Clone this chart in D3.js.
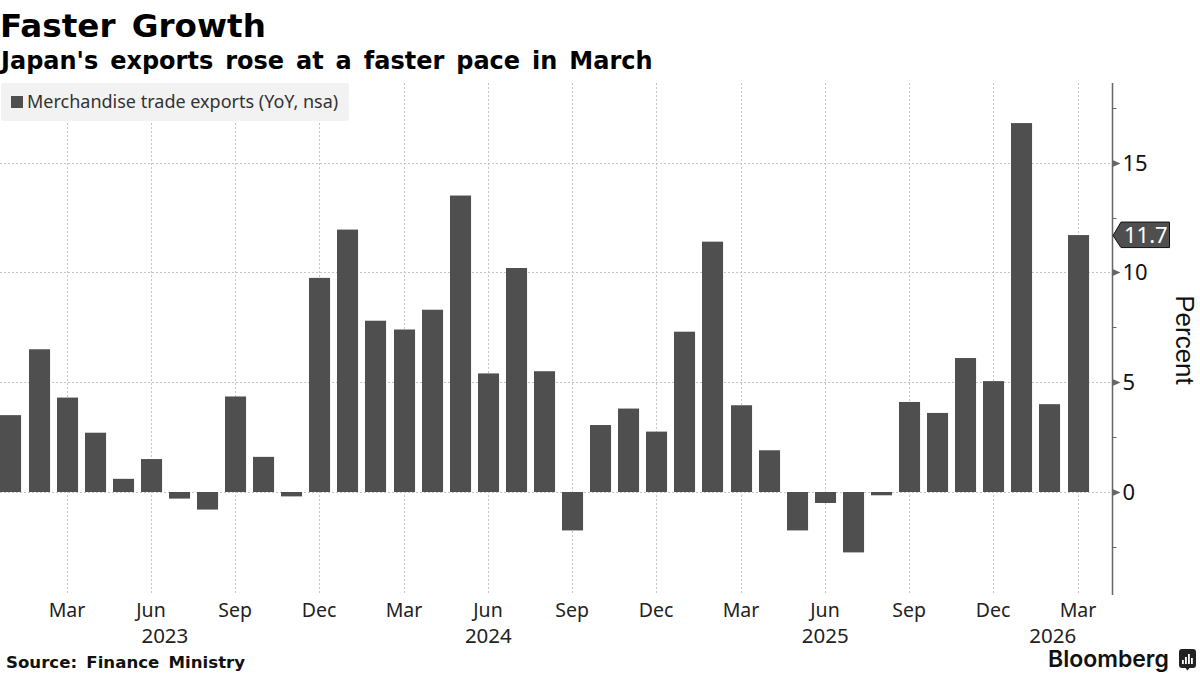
<!DOCTYPE html>
<html><head><meta charset="utf-8">
<script src="https://d3js.org/d3.v7.min.js"></script>
<style>
html,body{margin:0;padding:0;background:#fff;}
svg{display:block;font-family:"Noto Sans",sans-serif;}
.b{font-family:"DejaVu Sans",sans-serif;font-weight:700;}
</style></head><body>
<svg id="c" width="1200" height="675"></svg>
<script>
const months = ["Jan 2023","Feb 2023","Mar 2023","Apr 2023","May 2023","Jun 2023","Jul 2023","Aug 2023","Sep 2023","Oct 2023","Nov 2023","Dec 2023",
"Jan 2024","Feb 2024","Mar 2024","Apr 2024","May 2024","Jun 2024","Jul 2024","Aug 2024","Sep 2024","Oct 2024","Nov 2024","Dec 2024",
"Jan 2025","Feb 2025","Mar 2025","Apr 2025","May 2025","Jun 2025","Jul 2025","Aug 2025","Sep 2025","Oct 2025","Nov 2025","Dec 2025",
"Jan 2026","Feb 2026","Mar 2026"];
const values = [3.5,6.5,4.3,2.7,0.6,1.5,-0.3,-0.8,4.35,1.6,-0.2,9.75,
11.95,7.8,7.4,8.3,13.5,5.4,10.2,5.5,-1.75,3.05,3.8,2.75,
7.3,11.4,3.95,1.9,-1.75,-0.5,-2.75,-0.15,4.1,3.6,6.1,5.05,
16.8,4.0,11.7];
const monthTicks = ["Mar 2023","Jun 2023","Sep 2023","Dec 2023","Mar 2024","Jun 2024","Sep 2024","Dec 2024","Mar 2025","Jun 2025","Sep 2025","Dec 2025","Mar 2026"];
const yearLabels = ["2023","2024","2025","2026"];
const yearLabelAnchors = [5.48,17,29,37.1];
const yMajor = [0,5,10,15];
const yMinor = [-2.5,2.5,7.5,12.5,17.5];
const title = "Faster Growth";
const subtitle = "Japan's exports rose at a faster pace in March";
const legendLabel = "Merchandise trade exports (YoY, nsa)";
const source = "Source: Finance Ministry";
const lastLabel = "11.7";

const svg = d3.select("#c");
const x = d3.scaleBand().domain(months).range([-3.05,1092.07]).paddingInner(0.25).paddingOuter(0.125);
const y = d3.scaleLinear().domain([0,15]).range([492,162.6]);
const cx = m => Math.round(x(m))+x.bandwidth()/2;
const idx = d3.scaleLinear().domain([0,38]).range([x(months[0])+x.bandwidth()/2,x(months[38])+x.bandwidth()/2]);
const plotTop=83, plotBottom=595, axisX=1112.5;
const gridColor="#c6c6c6", barColor="#4f4f4f", axisColor="#666";

// gridlines
svg.append("g").selectAll("line").data(yMajor).join("line")
 .attr("x1",0).attr("x2",axisX).attr("y1",d=>Math.round(y(d))+.5).attr("y2",d=>Math.round(y(d))+.5)
 .attr("stroke",gridColor).attr("stroke-dasharray","2 2");
svg.append("g").selectAll("line").data(monthTicks).join("line")
 .attr("x1",d=>Math.floor(cx(d))+.5).attr("x2",d=>Math.floor(cx(d))+.5).attr("y1",plotTop).attr("y2",plotBottom)
 .attr("stroke",gridColor).attr("stroke-dasharray","2 2");

// legend
svg.append("rect").attr("x",1).attr("y",83).attr("width",348).attr("height",38).attr("rx",2).attr("fill","#f2f2f2");
svg.append("rect").attr("x",11).attr("y",96).attr("width",12).attr("height",12).attr("fill",barColor);
svg.append("text").attr("x",27).attr("y",108).attr("font-size",18).attr("fill","#333").text(legendLabel);

// bars
svg.append("g").selectAll("rect").data(months).join("rect")
 .attr("x",d=>Math.round(x(d))).attr("width",x.bandwidth())
 .attr("y",(d,i)=>Math.min(y(values[i]),y(0)))
 .attr("height",(d,i)=>Math.abs(y(values[i])-y(0)))
 .attr("fill",barColor);

// right axis
svg.append("line").attr("x1",axisX).attr("x2",axisX).attr("y1",plotTop).attr("y2",plotBottom).attr("stroke",axisColor).attr("stroke-width",1.5);
svg.append("g").selectAll("path").data(yMajor).join("path")
 .attr("d",d=>{const p=Math.round(y(d))+.5;return `M${axisX},${p-3.5}L${axisX+8},${p}L${axisX},${p+3.5}Z`;})
 .attr("fill",axisColor);
svg.append("g").selectAll("line").data(yMinor).join("line")
 .attr("x1",axisX).attr("x2",axisX+4).attr("y1",d=>Math.round(y(d))+.5).attr("y2",d=>Math.round(y(d))+.5)
 .attr("stroke",axisColor);
svg.append("g").selectAll("text").data(yMajor).join("text")
 .attr("x",1122.5).attr("y",d=>y(d)+8).attr("font-size",22).attr("fill","#111").text(d=>d);

// last value tag
const ly = y(values[38]);
svg.append("path").attr("d",`M${axisX+.5},${ly+.5}L${axisX+8.5},${ly-13}H1169.5V${ly+12.5}H${axisX+8.5}Z`)
 .attr("fill",barColor).attr("stroke","#111").attr("stroke-width",1);
svg.append("text").attr("x",1124).attr("y",ly+8).attr("font-size",22).attr("fill","#fff").text(lastLabel);

// axis title
svg.append("text").attr("transform","translate(1175.5,340) rotate(90)").attr("text-anchor","middle").attr("font-family","Liberation Sans, sans-serif").attr("font-size",26).attr("fill","#111").text("Percent");

// x labels
svg.append("g").selectAll("text").data(monthTicks).join("text")
 .attr("x",d=>cx(d)-.5).attr("y",617).attr("text-anchor","middle").attr("font-size",19.5).attr("fill","#222").text(d=>d.slice(0,3));
svg.append("g").selectAll("text").data(yearLabels).join("text")
 .attr("x",(d,i)=>idx(yearLabelAnchors[i])).attr("y",642.5).attr("text-anchor","middle").attr("font-size",20.5).attr("fill","#222").text(d=>d);

// headings
svg.append("text").attr("class","b").attr("x",0).attr("y",37).attr("font-size",32.6).attr("word-spacing",5).attr("fill","#000").text(title);
svg.append("text").attr("class","b").attr("x",1).attr("y",68.5).attr("font-size",24).attr("word-spacing",3.6).attr("fill","#000").text(subtitle);
svg.append("text").attr("class","b").attr("x",6).attr("y",668).attr("font-size",16.6).attr("word-spacing",3.5).attr("fill","#111").text(source);

// wordmark
svg.append("text").attr("x",1048).attr("y",667).attr("font-family","Inter, Lato, sans-serif").attr("font-size",23).attr("font-weight",600).attr("fill","#111").text("Bloomberg");
const logoBars=[4,7,10,6];
const gl=svg.append("g");
gl.append("path").attr("d","M1182,649h11a3,3 0 0 1 3,3v13a3,3 0 0 1 -3,3h-3.5l-2,2.5l-2,-2.5h-3.5a3,3 0 0 1 -3,-3v-13a3,3 0 0 1 3,-3Z").attr("fill","#222");
gl.selectAll("rect").data(logoBars).join("rect").attr("x",(d,i)=>1182+i*3).attr("y",d=>664-d).attr("width",1.8).attr("height",d=>d).attr("fill","#fff");
</script>
</body></html>
